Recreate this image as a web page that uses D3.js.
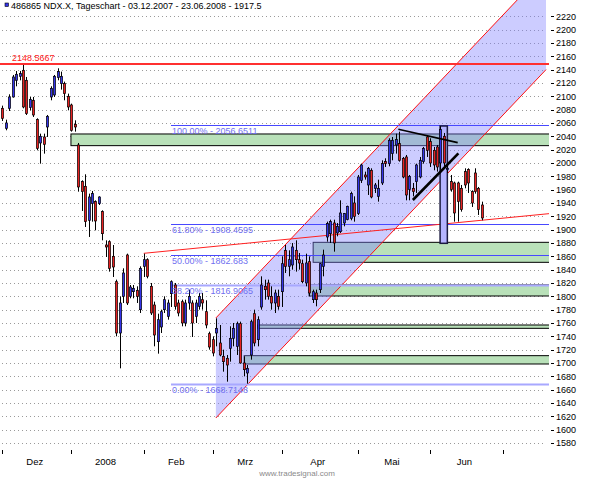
<!DOCTYPE html>
<html>
<head>
<meta charset="utf-8">
<script src="https://cdn.jsdelivr.net/npm/d3@7/dist/d3.min.js"></script>
<style>
body { margin:0; background:#fff; }
svg { display:block; font-family:"Liberation Sans", Arial, sans-serif; }
</style>
</head>
<body>
<div id="chart"></div>
<script>
// ---- data (index 0 = 03.12.2007, one per trading day)
var opens  = [2082,2052,2082,2099,2124,2130,2139,2124,2083,2094,2065,2030,2039,2054,2099,2102,2128,2119,2119,2100,
              2087,2058,2027,1972,1965,1914,1939,1942,1939,1927,1877,1882,1860,1822,1745,1800,1862,1800,1807,1809,1780,
              1845,1855,1815,1787,1732,1754,1780,1770,1804,1817,1790,1792,1760,1790,1790,1770,1785,1795,1777,1744,
              1735,1745,1730,1710,1707,1722,1737,1725,1759,1700,1685,1712,1774,1735,1784,1815,1820,1800,1790,1800,
              1807,1869,1845,1847,1869,1855,1849,1820,1852,1795,1805,1810,1845,1889,1894,1910,1895,1897,1910,1915,1917,1940,
              1924,1974,1982,1967,1989,1962,1950,1970,2002,1999,2014,2027,2029,2007,2009,1960,1962,1972,1979,2002,2039,
              2032,2019,2024,2000,2040,1990,1972,1970,1970,1962,1987,1990,1957,1985,1962,1937];
var highs  = [2086,2065,2103,2132,2138,2138,2147,2129,2099,2099,2067,2044,2044,2072,2115,2132,2142,2137,2122,2104,
              2089,2064,2030,1974,1983,1954,1958,1944,1950,1929,1884,1884,1877,1825,1800,1842,1864,1817,1817,1815,1845,
              1864,1857,1820,1792,1774,1780,1800,1795,1824,1820,1795,1795,1795,1810,1794,1795,1805,1805,1794,1747,
              1740,1767,1757,1720,1712,1755,1760,1762,1762,1710,1697,1765,1780,1770,1830,1825,1825,1815,1810,1810,
              1860,1877,1869,1880,1884,1865,1855,1864,1860,1810,1810,1850,1870,1912,1915,1915,1910,1944,1925,1936,1957,1950,
              1982,1999,1987,1994,1992,1970,1975,2004,2007,2037,2039,2044,2047,2009,2012,1982,1970,1999,2009,2024,2042,
              2037,2024,2027,2055,2045,2000,1982,1972,1972,1967,1992,1992,1959,1992,1964,1942];
var lows   = [2063,2049,2078,2098,2115,2124,2082,2072,2079,2069,2019,1999,2014,2039,2094,2099,2124,2110,2094,2079,
              2047,2047,1957,1928,1904,1889,1912,1899,1937,1884,1859,1837,1829,1740,1692,1790,1787,1797,1797,1790,1775,
              1829,1827,1772,1725,1714,1745,1775,1765,1784,1780,1770,1755,1755,1780,1739,1760,1780,1780,1752,1720,
              1710,1725,1710,1687,1672,1702,1725,1712,1699,1680,1669,1705,1725,1725,1780,1795,1795,1780,1775,1780,
              1784,1835,1830,1840,1837,1840,1820,1815,1800,1790,1785,1805,1830,1882,1880,1867,1890,1895,1905,1914,1914,1912,
              1922,1970,1975,1952,1947,1955,1942,1967,1994,1995,2004,2014,2002,1977,1944,1944,1950,1955,1977,1999,2009,
              1994,1989,1987,1990,1995,1985,1957,1912,1912,1927,1962,1955,1934,1954,1922,1914];
var closes = [2067,2060,2099,2129,2133,2134,2084,2074,2095,2072,2022,2040,2028,2070,2112,2130,2137,2130,2104,2084,
              2049,2054,1964,1957,1912,1949,1954,1913,1949,1894,1874,1842,1844,1745,1790,1835,1790,1814,1812,1800,1842,
              1855,1830,1775,1742,1765,1777,1795,1790,1822,1785,1775,1760,1790,1800,1760,1790,1800,1790,1757,1724,
              1715,1752,1712,1702,1697,1737,1752,1759,1700,1690,1692,1762,1730,1765,1817,1810,1800,1790,1805,1785,
              1849,1845,1855,1874,1855,1850,1822,1850,1805,1807,1795,1849,1862,1909,1912,1880,1905,1925,1924,1935,1954,1920,
              1979,1997,1979,1992,1949,1967,1962,1999,1999,2034,2034,2035,2004,1979,1952,1980,1957,1997,2004,2022,2019,
              2000,1997,1994,2050,2000,1992,1960,1925,1942,1930,1967,1970,1940,1957,1930,1917.5];

// first trading day of each month, and the month names under the axis
var monthStarts = [0, 20, 41, 61, 81, 103, 124, 145];
var monthNames  = ["Dez", "2008", "Feb", "Mrz", "Apr", "Mai", "Jun"];
var yTicks = d3.range(1580, 2221, 20);

// drawn objects
var resistance = 2148.5667;
var fibLevels = [["100.00%", 2056.6511], ["61.80%", 1908.4595], ["50.00%", 1862.683], ["38.20%", 1816.9065], ["0.00%", 1668.7148]];
var fibStart = 48.9;
var zones = [[19.9, 2043.5, 2026], [90.1, 1881, 1851], [88.9, 1817, 1800.5], [74, 1757, 1752], [70.1, 1711, 1698.5]];
var channel = { start: 61.9, end: 157.6, low: 1617.5, slope: 5.46, width: 150 };
var trend = [[41, 1864.5], [158.5, 1924]];
var triTop = [[114.8, 2050.5], [132, 2030.5]];
var triBottom = [[119, 1944.5], [132.2, 2014.5]];
var markBox = [126.9, 129.0, 2055.5, 1879.5];

var W = 595, H = 478;
var plotRight = 549, plotBottom = 449;

var svg = d3.select("#chart").append("svg")
    .attr("width", W)
    .attr("height", H);

svg.append("rect").attr("width", W).attr("height", H).attr("fill", "#fff");

var x = d3.scaleLinear().domain([0, 1]).range([2.3, 5.75]);
var y = d3.scaleLinear().domain([1580, 2220]).range([443, 16.3]);

svg.append("clipPath").attr("id", "plotClip")
    .append("rect").attr("x", 0).attr("y", 0).attr("width", plotRight).attr("height", plotBottom);

var g = svg.append("g").attr("clip-path", "url(#plotClip)");

// dotted grid
g.selectAll(".grid").data(yTicks).enter().append("line")
    .attr("class", "grid")
    .attr("x1", 2).attr("x2", 546)
    .attr("y1", function(d) { return Math.round(y(d)) + 0.5; })
    .attr("y2", function(d) { return Math.round(y(d)) + 0.5; })
    .attr("stroke", "#9a9a9a")
    .attr("stroke-dasharray", "1,3");

// green zones
zones.forEach(function(z) {
    g.append("rect")
        .attr("x", x(z[0]))
        .attr("y", y(z[1]))
        .attr("width", plotRight + 5 - x(z[0]))
        .attr("height", y(z[2]) - y(z[1]))
        .attr("fill", "#b9e1b9")
        .attr("stroke", "#000")
        .attr("stroke-width", 1);
});

// regression channel
var chPts = [
    [channel.start, channel.low + channel.width],
    [channel.end, channel.low + channel.width + (channel.end - channel.start) * channel.slope],
    [channel.end, channel.low + (channel.end - channel.start) * channel.slope],
    [channel.start, channel.low]
];
g.append("path")
    .attr("d", "M" + chPts.map(function(p) { return x(p[0]) + "," + y(p[1]); }).join("L") + "Z")
    .attr("fill", "#8080ff")
    .attr("fill-opacity", 0.4);
[[chPts[0], chPts[1]], [chPts[3], chPts[2]]].forEach(function(s) {
    g.append("line")
        .attr("x1", x(s[0][0])).attr("y1", y(s[0][1]))
        .attr("x2", x(s[1][0])).attr("y2", y(s[1][1]))
        .attr("stroke", "#ff1010").attr("stroke-width", 1);
});

// fibonacci retracement
fibLevels.forEach(function(f, i) {
    var light = (i >= 3);
    g.append("line")
        .attr("x1", x(fibStart)).attr("x2", plotRight)
        .attr("y1", Math.round(y(f[1])) + 0.5).attr("y2", Math.round(y(f[1])) + 0.5)
        .attr("stroke", light ? "#a8a8ff" : "#4848ff")
        .attr("stroke-width", light ? 2 : 1);
});

// resistance line
g.append("line")
    .attr("x1", 0).attr("x2", plotRight)
    .attr("y1", y(resistance)).attr("y2", y(resistance))
    .attr("stroke", "#ff3030").attr("stroke-width", 2);

// trend line
g.append("line")
    .attr("x1", x(trend[0][0])).attr("y1", y(trend[0][1]))
    .attr("x2", x(trend[1][0])).attr("y2", y(trend[1][1]))
    .attr("stroke", "#ff2020").attr("stroke-width", 1);

// marked box
g.append("rect")
    .attr("x", x(markBox[0])).attr("y", y(markBox[2]))
    .attr("width", x(markBox[1]) - x(markBox[0]))
    .attr("height", y(markBox[3]) - y(markBox[2]))
    .attr("fill", "#b4b4ff")
    .attr("stroke", "#1a1a40").attr("stroke-width", 1.5);

// candles
var idx = d3.range(closes.length);
g.selectAll(".wick").data(idx).enter().append("line")
    .attr("class", "wick")
    .attr("x1", function(i) { return Math.round(x(i)) + 0.5; })
    .attr("x2", function(i) { return Math.round(x(i)) + 0.5; })
    .attr("y1", function(i) { return y(highs[i]); })
    .attr("y2", function(i) { return y(lows[i]); })
    .attr("stroke", "#000");
g.selectAll(".body").data(idx).enter().append("rect")
    .attr("class", "body")
    .attr("x", function(i) { return Math.round(x(i)) - 0.6; })
    .attr("width", 2.2)
    .attr("y", function(i) { return y(Math.max(opens[i], closes[i])); })
    .attr("height", function(i) { return Math.max(1, Math.abs(y(opens[i]) - y(closes[i]))); })
    .attr("fill", function(i) { return closes[i] >= opens[i] ? "#3434e8" : "#e82222"; })
    .attr("stroke", "#000").attr("stroke-width", 0.7);

// triangle lines
[[triTop, 1.6], [triBottom, 2.6]].forEach(function(t) {
    g.append("line")
        .attr("x1", x(t[0][0][0])).attr("y1", y(t[0][0][1]))
        .attr("x2", x(t[0][1][0])).attr("y2", y(t[0][1][1]))
        .attr("stroke", "#000").attr("stroke-width", t[1]);
});

// labels of drawn objects
svg.append("text")
    .attr("x", 12).attr("y", y(resistance) - 2.5)
    .attr("font-size", 9).attr("fill", "#ff2020")
    .text(resistance.toFixed(4));

fibLevels.forEach(function(f) {
    svg.append("text")
        .attr("x", x(fibStart) + 1).attr("y", y(f[1]) + 9)
        .attr("font-size", 9).attr("fill", "#7070f0")
        .text(f[0] + " - " + f[1]);
});

// right axis
var ya = svg.append("g").attr("class", "y axis");
ya.selectAll("line").data(yTicks).enter().append("line")
    .attr("x1", 551).attr("x2", 554)
    .attr("y1", function(d) { return Math.round(y(d)) + 0.5; })
    .attr("y2", function(d) { return Math.round(y(d)) + 0.5; })
    .attr("stroke", "#000");
ya.selectAll("text").data(yTicks).enter().append("text")
    .attr("x", 556)
    .attr("y", function(d) { return y(d) + 3.2; })
    .attr("font-size", 9)
    .text(function(d) { return d; });

// bottom axis
var xa = svg.append("g").attr("class", "x axis");
xa.selectAll("line").data(monthStarts).enter().append("line")
    .attr("x1", function(d) { return Math.round(x(d)) + 0.5; })
    .attr("x2", function(d) { return Math.round(x(d)) + 0.5; })
    .attr("y1", 450).attr("y2", 454)
    .attr("stroke", "#000");
xa.selectAll("text").data(monthNames).enter().append("text")
    .attr("x", function(d, k) { return x((monthStarts[k] + monthStarts[k + 1]) / 2) - 2; })
    .attr("y", 465)
    .attr("text-anchor", "middle")
    .attr("font-size", 9.5)
    .text(function(d) { return d; });

// title
svg.append("rect")
    .attr("x", 5).attr("y", 3).attr("width", 3.5).attr("height", 3.5)
    .attr("fill", "#3434e8").attr("stroke", "#000").attr("stroke-width", 0.6);
svg.append("text")
    .attr("x", 11).attr("y", 9)
    .attr("font-size", 9)
    .text("486865  NDX.X, Tageschart - 03.12.2007 - 23.06.2008 - 1917.5");

svg.append("text")
    .attr("x", 297).attr("y", 476)
    .attr("text-anchor", "middle")
    .attr("font-size", 8)
    .attr("fill", "#8a8a8a")
    .text("www.tradesignal.com");
</script>
</body>
</html>
